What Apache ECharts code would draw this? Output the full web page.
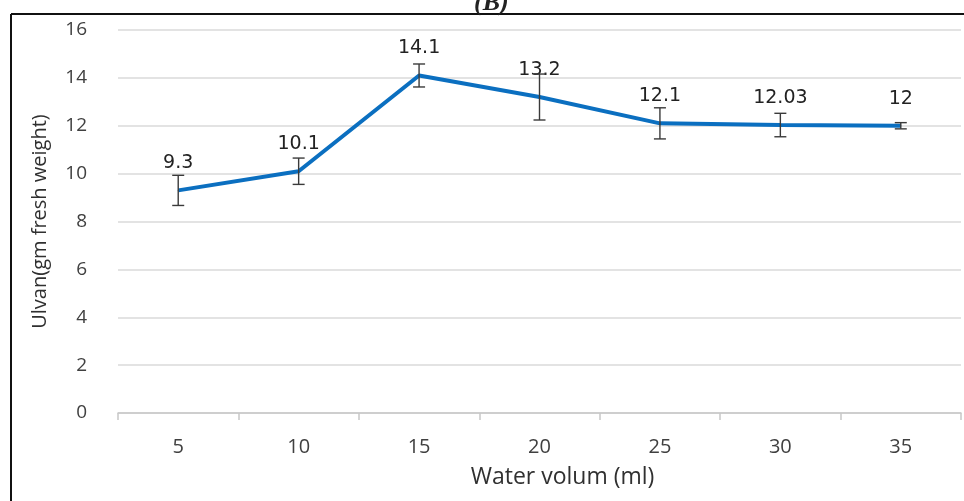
<!DOCTYPE html>
<html>
<head>
<meta charset="utf-8">
<script src="https://cdn.jsdelivr.net/npm/echarts@6/dist/echarts.min.js"></script>
<style>
html,body{margin:0;padding:0;background:#fff;}
#chart{width:964px;height:501px;}
</style>
</head>
<body>
<div id="chart"></div>
<script>
const categories = ['5', '10', '15', '20', '25', '30', '35'];
const values = [9.3, 10.1, 14.1, 13.2, 12.1, 12.03, 12];
const labels = ['9.3', '10.1', '14.1', '13.2', '12.1', '12.03', '12'];
const errors = [0.63, 0.55, 0.48, 0.96, 0.65, 0.49, 0.13];
const yTicks = [0, 2, 4, 6, 8, 10, 12, 14, 16];

const chart = echarts.init(document.getElementById('chart'));
const errData = values.map((v, i) => [i, v - errors[i], v + errors[i]]);

chart.setOption({
  backgroundColor: '#ffffff',
  animation: false,
  graphic: [
    { type: 'line', shape: { x1: 11, y1: 14, x2: 964, y2: 14 }, style: { stroke: '#111', lineWidth: 2 } },
    { type: 'line', shape: { x1: 11, y1: 14, x2: 11, y2: 501 }, style: { stroke: '#111', lineWidth: 2 } },
    { type: 'text', left: 474, top: -10, style: { text: '(B)', font: 'italic bold 26px "Liberation Serif", serif', fill: '#222' } }
  ],
  grid: { left: 118, right: 3, top: 30, bottom: 88 },
  xAxis: {
    type: 'category',
    data: categories,
    boundaryGap: true,
    axisLine: { show: true, lineStyle: { color: '#c8c8c8', width: 1.5 } },
    axisTick: { show: true, alignWithLabel: false, length: 7, lineStyle: { color: '#c8c8c8', width: 1.5 } },
    axisLabel: { color: '#404040', fontSize: 20, fontFamily: '"Open Sans", sans-serif', margin: 24 },
    name: 'Water volum (ml)',
    nameLocation: 'middle',
    nameGap: 53,
    nameTextStyle: { color: '#303030', fontSize: 23, fontFamily: '"Open Sans", sans-serif', padding: [0, 0, 0, 46] }
  },
  yAxis: {
    type: 'value',
    min: yTicks[0],
    max: yTicks[yTicks.length - 1],
    interval: 2,
    axisLine: { show: false },
    axisTick: { show: false },
    splitLine: { show: true, lineStyle: { color: '#dadada', width: 1.5 } },
    axisLabel: { color: '#404040', fontSize: 19, fontFamily: '"Open Sans", sans-serif', margin: 31 },
    name: 'Ulvan(gm fresh weight)',
    nameLocation: 'middle',
    nameGap: 68,
    nameTextStyle: { color: '#303030', fontSize: 20, fontFamily: '"Open Sans", sans-serif' }
  },
  series: [
    {
      type: 'line',
      data: values,
      symbol: 'circle',
      symbolSize: 1,
      showSymbol: true,
      itemStyle: { color: '#0b6fc0' },
      lineStyle: { color: '#0b6fc0', width: 4 },
      z: 2,
      label: {
        show: true,
        position: 'top',
        distance: 17,
        formatter: p => labels[p.dataIndex],
        color: '#222',
        fontSize: 19,
        fontFamily: '"DejaVu Sans", sans-serif'
      }
    },
    {
      type: 'custom',
      data: errData,
      z: 3,
      renderItem: function (params, api) {
        const i = api.value(0);
        const lo = api.coord([i, api.value(1)]);
        const hi = api.coord([i, api.value(2)]);
        const w = 6;
        const st = { stroke: '#3a3a3a', lineWidth: 1.4 };
        return {
          type: 'group',
          children: [
            { type: 'line', shape: { x1: lo[0], y1: lo[1], x2: hi[0], y2: hi[1] }, style: st },
            { type: 'line', shape: { x1: lo[0] - w, y1: lo[1], x2: lo[0] + w, y2: lo[1] }, style: st },
            { type: 'line', shape: { x1: hi[0] - w, y1: hi[1], x2: hi[0] + w, y2: hi[1] }, style: st }
          ]
        };
      }
    }
  ]
});
</script>
</body>
</html>
